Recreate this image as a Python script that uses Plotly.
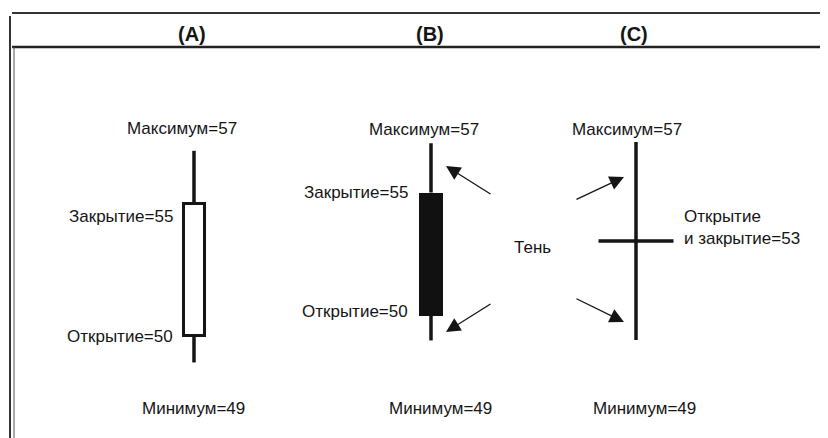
import plotly.graph_objects as go

# ---------------- data ----------------
panels = ["(A)", "(B)", "(C)"]
open_ = [50, 50, 53]
close = [55, 55, 53]
high = [57, 57, 57]
low = [49, 49, 49]
high_word = "Максимум"
low_word = "Минимум"
open_word = "Открытие"
close_word = "Закрытие"
doji_words = ["Открытие", "и закрытие"]
shadow_word = "Тень"

# ---------------- layout constants ----------------
W, H = 828, 438
OFF = 8  # page body margin of the browser
centers_px = [194, 431, 636]
# vertical scale per panel: (screen px of reference value, reference value, px per unit)
yscale = [(263.25, 52.75, 26.45), (248.0, 52.75, 24.65), (241.0, 53.0, 24.75)]
body_w = [0.21, 0.24, 0.75]
body_fill = ["white", "#111111", None]
INK = "#151515"
FONT = "Liberation Sans, Arial, Helvetica, sans-serif"
FS = 17


def px(x):
    return (x - OFF) / W


def py(y):
    return 1 - (y - OFF) / H


fig = go.Figure()
annotations = []
layout_axes = {}

for i in range(3):
    s = "" if i == 0 else str(i + 1)
    xa, ya = f"x{s}", f"y{s}"
    c = centers_px[i]
    P0, V0, k = yscale[i]
    yr = [V0 - (OFF + H - P0) / k, V0 + (P0 - OFF) / k]
    layout_axes[f"xaxis{s}"] = dict(domain=[px(c - 100), px(c + 100)], range=[-1, 1],
                                     visible=False, fixedrange=True, anchor=ya)
    layout_axes[f"yaxis{s}"] = dict(domain=[0, 1], range=yr, visible=False,
                                     fixedrange=True, anchor=xa)
    o, cl, hi, lo = open_[i], close[i], high[i], low[i]
    top, bot = max(o, cl), min(o, cl)
    if o != cl:
        fig.add_trace(go.Scatter(x=[0, 0, None, 0, 0], y=[hi, top, None, bot, lo],
                                 mode="lines", line=dict(color=INK, width=3.5),
                                 xaxis=xa, yaxis=ya, hoverinfo="skip"))
        fig.add_trace(go.Bar(x=[0], y=[top - bot], base=[bot], width=body_w[i],
                             marker=dict(color=body_fill[i],
                                         line=dict(color=INK, width=3 if body_fill[i] == "white" else 0)),
                             xaxis=xa, yaxis=ya, hoverinfo="skip"))
    else:
        fig.add_trace(go.Scatter(x=[0, 0], y=[hi, lo], mode="lines",
                                 line=dict(color=INK, width=3.5),
                                 xaxis=xa, yaxis=ya, hoverinfo="skip"))
        fig.add_trace(go.Scatter(x=[-body_w[i] / 2, body_w[i] / 2], y=[o, o], mode="lines",
                                 line=dict(color=INK, width=3.5),
                                 xaxis=xa, yaxis=ya, hoverinfo="skip"))

# header labels
header_x = [192, 430, 634]
for i, t in enumerate(panels):
    annotations.append(dict(text=f"<b>{t}</b>", x=px(header_x[i]), y=py(34), xref="paper", yref="paper",
                            showarrow=False, xanchor="center", yanchor="middle",
                            font=dict(family=FONT, size=20, color=INK)))


def lab(i, text, yval, xshift, yshift, xanchor="center"):
    s = "" if i == 0 else str(i + 1)
    annotations.append(dict(text=text, x=0, y=yval, xref=f"x{s}", yref=f"y{s}",
                            xshift=xshift, yshift=yshift, showarrow=False,
                            xanchor=xanchor, yanchor="middle", align="left",
                            font=dict(family=FONT, size=FS, color=INK)))


# A
lab(0, f"{high_word}={high[0]}", high[0], -12, 22)
lab(0, f"{close_word}={close[0]}", close[0], -19, -13, "right")
lab(0, f"{open_word}={open_[0]}", open_[0], -19, -1, "right")
lab(0, f"{low_word}={low[0]}", low[0], -1, -46)
# B
lab(1, f"{high_word}={high[1]}", high[1], -7, 14)
lab(1, f"{close_word}={close[1]}", close[1], -21, 0, "right")
lab(1, f"{open_word}={open_[1]}", open_[1], -21, 4, "right")
lab(1, f"{low_word}={low[1]}", low[1], 9, -68)
# C
lab(2, f"{high_word}={high[2]}", high[2], -9, 13)
lab(2, f"{doji_words[0]}<br>{doji_words[1]}={open_[2]}", open_[2], 46, 14, "left")
lab(2, f"{low_word}={low[2]}", low[2], 8, -68)

annotations.append(dict(text=shadow_word, x=px(532), y=py(247), xref="paper", yref="paper",
                        showarrow=False, font=dict(family=FONT, size=FS, color=INK)))

# shadow arrows (tip, tail) in screen pixels
arrows = [((446, 166), (492, 195)), ((446, 332), (492, 303)),
          ((624, 177), (575, 200)), ((624, 322), (575, 298))]
for (tx, ty), (sx, sy) in arrows:
    annotations.append(dict(x=px(tx), y=py(ty), xref="paper", yref="paper", text="",
                            showarrow=True, ax=sx - tx, ay=sy - ty, arrowhead=2,
                            arrowsize=2.2, arrowwidth=1.3, arrowcolor=INK))

shapes = [
    dict(type="line", xref="paper", yref="paper", x0=px(12), x1=1, y0=py(13), y1=py(13),
         line=dict(color="#333", width=2)),
    dict(type="line", xref="paper", yref="paper", x0=px(12), x1=1, y0=py(47), y1=py(47),
         line=dict(color="#222", width=2.5)),
    dict(type="line", xref="paper", yref="paper", x0=px(10), x1=px(10), y0=py(16), y1=0,
         line=dict(color="#333", width=2)),
    dict(type="line", xref="paper", yref="paper", x0=px(14), x1=px(14), y0=py(47), y1=0,
         line=dict(color="#555", width=1)),
    dict(type="line", xref="paper", yref="paper", x0=px(824), x1=px(824), y0=py(50), y1=py(370),
         line=dict(color="#e2e2e2", width=1)),
]

fig.update_layout(
    width=W, height=H,
    margin=dict(l=0, r=0, t=0, b=0),
    paper_bgcolor="white", plot_bgcolor="rgba(0,0,0,0)",
    showlegend=False, bargap=0,
    annotations=annotations, shapes=shapes,
    **layout_axes,
)

fig.write_html("out.html", config={"displayModeBar": False})
